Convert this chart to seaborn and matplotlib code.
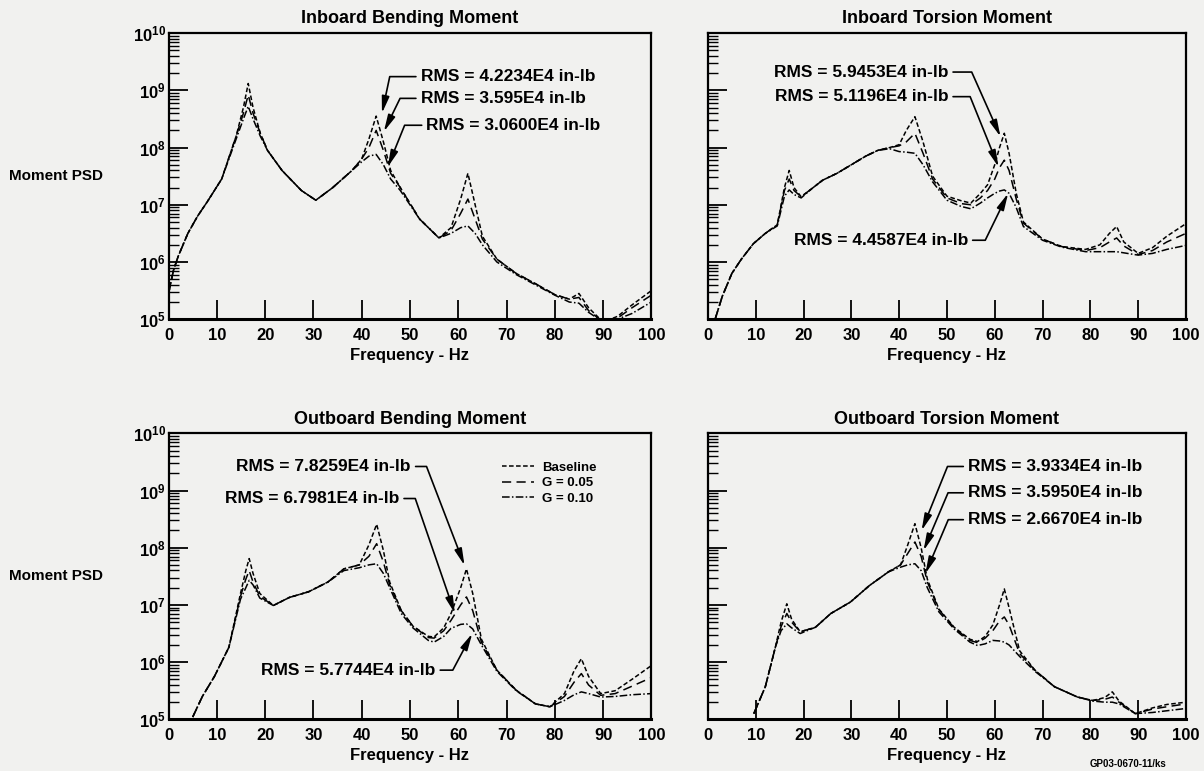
import numpy as np
import pandas as pd
import matplotlib
matplotlib.use("Agg")
import matplotlib.pyplot as plt
from matplotlib.ticker import LogLocator, NullFormatter, FuncFormatter, MultipleLocator
import seaborn as sns

# Data (log10 of moment PSD)
cases = ["Baseline", "G = 0.05", "G = 0.10"]

ib_bend_freq = [0, 1, 2, 4, 6, 8, 11, 14, 15.5, 16.5, 17.5, 19, 20.5, 23.5, 27.5, 30.5, 34, 38, 40, 41.5,
                43, 44.5, 46, 48, 52, 56, 58.5, 60.5, 62, 63.5, 65, 68, 72, 76, 80, 83, 85, 87, 90, 93, 96, 100]
ib_bend_base = [5.45, 5.85, 6.1, 6.5, 6.8, 7.05, 7.45, 8.2, 8.7, 9.12, 8.7, 8.25, 7.95, 7.6, 7.25, 7.08, 7.3, 7.6, 7.8, 8.15,
                8.55, 8.1, 7.6, 7.3, 6.75, 6.42, 6.6, 7.1, 7.55, 7.0, 6.45, 6.05, 5.8, 5.62, 5.43, 5.35, 5.45, 5.2, 4.95, 5.05, 5.25, 5.5]
ib_bend_g05 = [5.45, 5.85, 6.1, 6.5, 6.8, 7.05, 7.45, 8.2, 8.6, 8.92, 8.6, 8.25, 7.95, 7.6, 7.25, 7.08, 7.3, 7.6, 7.8, 8.0,
               8.3, 7.95, 7.55, 7.3, 6.75, 6.42, 6.55, 6.85, 7.1, 6.75, 6.4, 6.05, 5.8, 5.62, 5.43, 5.35, 5.38, 5.15, 4.95, 5.02, 5.2, 5.42]
ib_bend_g10 = [5.45, 5.85, 6.1, 6.5, 6.8, 7.05, 7.45, 8.15, 8.5, 8.72, 8.5, 8.2, 7.95, 7.6, 7.25, 7.08, 7.3, 7.6, 7.75, 7.85,
               7.88, 7.7, 7.45, 7.25, 6.75, 6.42, 6.5, 6.6, 6.63, 6.5, 6.3, 6.0, 5.78, 5.6, 5.42, 5.3, 5.28, 5.12, 4.95, 5.0, 5.1, 5.3]

ib_tors_freq = [1.5, 3, 5, 7, 9.5, 12, 14.5, 16, 17, 18, 19.5, 22, 24, 27, 30, 33, 35.5, 38, 40, 41.5,
                43.3, 45, 47, 50, 53, 55, 57, 58.5, 60, 61, 62, 63, 64.5, 66, 70, 74, 79, 82, 84, 85.5,
                87, 90, 93, 96, 100]
ib_tors_base = [5.0, 5.4, 5.8, 6.05, 6.32, 6.5, 6.65, 7.3, 7.6, 7.3, 7.14, 7.3, 7.43, 7.55, 7.7, 7.85, 7.95, 8.0, 8.05, 8.3,
                8.54, 8.1, 7.5, 7.15, 7.07, 7.03, 7.2, 7.35, 7.7, 8.0, 8.25, 7.9, 7.2, 6.7, 6.4, 6.27, 6.22, 6.3, 6.5, 6.62,
                6.35, 6.15, 6.25, 6.45, 6.67]
ib_tors_g05 = [5.0, 5.4, 5.8, 6.05, 6.32, 6.5, 6.65, 7.25, 7.45, 7.25, 7.14, 7.3, 7.43, 7.55, 7.7, 7.85, 7.95, 8.0, 8.03, 8.1,
               8.25, 7.9, 7.45, 7.12, 7.02, 7.0, 7.12, 7.25, 7.45, 7.65, 7.78, 7.6, 7.1, 6.68, 6.4, 6.27, 6.2, 6.25, 6.35, 6.42,
               6.28, 6.13, 6.2, 6.35, 6.5]
ib_tors_g10 = [5.0, 5.4, 5.8, 6.05, 6.32, 6.5, 6.63, 7.15, 7.26, 7.18, 7.12, 7.3, 7.43, 7.55, 7.7, 7.85, 7.95, 7.98, 7.93, 7.92,
               7.9, 7.7, 7.4, 7.08, 6.97, 6.93, 7.03, 7.12, 7.2, 7.24, 7.26, 7.2, 6.95, 6.62, 6.38, 6.26, 6.18, 6.18, 6.18, 6.18,
               6.16, 6.12, 6.15, 6.22, 6.29]

ob_bend_freq = [5, 7, 9.5, 12.5, 14.9, 16, 16.7, 17.5, 18.9, 21.7, 25, 29, 33, 36.3, 39.5, 41.5, 43.1, 44.5, 45.8, 48.2,
                50.6, 53.8, 55, 57, 58.5, 60.5, 61.7, 63, 64.8, 68, 72, 76, 79, 82, 84, 85.5, 87, 89.5, 92.5, 96, 100]
ob_bend_base = [5.04, 5.4, 5.75, 6.26, 7.2, 7.6, 7.81, 7.55, 7.2, 6.99, 7.13, 7.23, 7.4, 7.63, 7.7, 8.05, 8.41, 7.95, 7.4, 6.9,
                6.63, 6.45, 6.44, 6.6, 6.85, 7.3, 7.63, 7.2, 6.4, 5.86, 5.51, 5.27, 5.22, 5.45, 5.85, 6.06, 5.75, 5.45, 5.5, 5.7, 5.94]
ob_bend_g05 = [5.04, 5.4, 5.75, 6.26, 7.15, 7.45, 7.6, 7.4, 7.15, 6.99, 7.13, 7.23, 7.4, 7.63, 7.7, 7.85, 8.07, 7.75, 7.35, 6.9,
               6.63, 6.43, 6.42, 6.55, 6.73, 7.0, 7.14, 6.9, 6.35, 5.86, 5.51, 5.27, 5.22, 5.4, 5.65, 5.8, 5.6, 5.42, 5.45, 5.58, 5.73]
ob_bend_g10 = [5.04, 5.4, 5.75, 6.26, 7.1, 7.3, 7.43, 7.35, 7.12, 6.99, 7.13, 7.23, 7.4, 7.6, 7.65, 7.7, 7.72, 7.55, 7.3, 6.85,
               6.6, 6.38, 6.35, 6.45, 6.59, 6.66, 6.67, 6.58, 6.3, 5.84, 5.5, 5.27, 5.22, 5.33, 5.43, 5.48, 5.45, 5.39, 5.4, 5.43, 5.45]

ob_tors_freq = [9.6, 12, 14.1, 15.3, 16.5, 17.5, 19.3, 22.5, 25.7, 29.8, 33.8, 37.8, 40.3, 41.8, 43.3, 44.6, 45.9, 48.3, 51.5, 54.8,
                56.4, 58, 59.6, 61, 62, 63, 65.2, 68.4, 72.5, 77.3, 80.5, 83, 84.6, 86, 89.4, 93, 96, 100]
ob_tors_base = [5.1, 5.57, 6.26, 6.7, 7.02, 6.75, 6.53, 6.61, 6.85, 7.05, 7.34, 7.58, 7.7, 8.05, 8.42, 8.0, 7.45, 6.93, 6.61, 6.4,
                6.36, 6.45, 6.65, 7.0, 7.28, 6.95, 6.2, 5.86, 5.57, 5.39, 5.33, 5.38, 5.48, 5.32, 5.1, 5.2, 5.26, 5.3]
ob_tors_g05 = [5.1, 5.57, 6.26, 6.62, 6.85, 6.7, 6.53, 6.61, 6.85, 7.05, 7.34, 7.58, 7.7, 7.9, 8.1, 7.85, 7.4, 6.92, 6.6, 6.38,
               6.34, 6.42, 6.55, 6.72, 6.79, 6.65, 6.15, 5.86, 5.57, 5.39, 5.33, 5.35, 5.39, 5.3, 5.1, 5.18, 5.22, 5.27]
ob_tors_g10 = [5.1, 5.57, 6.26, 6.55, 6.67, 6.6, 6.5, 6.61, 6.85, 7.05, 7.34, 7.58, 7.66, 7.7, 7.72, 7.6, 7.3, 6.88, 6.58, 6.35,
               6.29, 6.32, 6.38, 6.37, 6.35, 6.3, 6.1, 5.84, 5.57, 5.39, 5.32, 5.3, 5.3, 5.27, 5.1, 5.12, 5.15, 5.19]

titles = ["Inboard Bending Moment", "Inboard Torsion Moment",
          "Outboard Bending Moment", "Outboard Torsion Moment"]

# (label text, tip freq, tip log10, text freq, text log10, ha, angleB)
ib_bend_notes = [("RMS = 4.2234E4 in-lb", 44.2, 8.60, 52.2, 9.24, "left", 78),
                 ("RMS = 3.595E4 in-lb", 44.6, 8.28, 52.2, 8.86, "left", 64),
                 ("RMS = 3.0600E4 in-lb", 45.4, 7.66, 53.4, 8.39, "left", 68)]
ib_tors_notes = [("RMS = 5.9453E4 in-lb", 61.2, 8.19, 50.3, 9.32, "right", -66),
                 ("RMS = 5.1196E4 in-lb", 60.8, 7.66, 50.3, 8.89, "right", -68),
                 ("RMS = 4.4587E4 in-lb", 62.8, 7.20, 54.4, 6.38, "right", 64)]
ob_bend_notes = [("RMS = 7.8259E4 in-lb", 61.3, 7.69, 50.2, 9.42, "right", -69),
                 ("RMS = 6.7981E4 in-lb", 59.3, 6.85, 47.8, 8.86, "right", -71),
                 ("RMS = 5.7744E4 in-lb", 62.9, 6.50, 55.3, 5.86, "right", 62)]
ob_tors_notes = [("RMS = 3.9334E4 in-lb", 44.7, 8.30, 54.4, 9.42, "left", 68),
                 ("RMS = 3.5950E4 in-lb", 45.1, 7.95, 54.4, 8.96, "left", 67),
                 ("RMS = 2.6670E4 in-lb", 45.5, 7.55, 54.4, 8.49, "left", 67)]

panels = [
    (ib_bend_freq, ib_bend_base, ib_bend_g05, ib_bend_g10, ib_bend_notes),
    (ib_tors_freq, ib_tors_base, ib_tors_g05, ib_tors_g10, ib_tors_notes),
    (ob_bend_freq, ob_bend_base, ob_bend_g05, ob_bend_g10, ob_bend_notes),
    (ob_tors_freq, ob_tors_base, ob_tors_g05, ob_tors_g10, ob_tors_notes),
]

sns.set_theme(style="ticks")
bg = "#f1f1ef"
plt.rcParams["font.family"] = ["Liberation Sans", "DejaVu Sans"]
plt.rcParams["font.weight"] = "bold"
plt.rcParams["text.color"] = "black"
plt.rcParams["axes.labelcolor"] = "black"
plt.rcParams["xtick.color"] = "black"
plt.rcParams["ytick.color"] = "black"
plt.rcParams["mathtext.fontset"] = "custom"
plt.rcParams["mathtext.rm"] = "Liberation Sans:bold"
plt.rcParams["mathtext.it"] = "Liberation Sans:bold"
plt.rcParams["mathtext.bf"] = "Liberation Sans:bold"
plt.rcParams["mathtext.default"] = "rm"

fig = plt.figure(figsize=(12.04, 7.71), dpi=100, facecolor=bg)

# axes rectangles in figure fractions (left, bottom, width, height)
rects = [(0.140, 0.586, 0.401, 0.371), (0.588, 0.586, 0.397, 0.371),
         (0.140, 0.067, 0.401, 0.371), (0.588, 0.067, 0.397, 0.371)]

dash_map = {"Baseline": (3, 1.6), "G = 0.05": (6, 3.5), "G = 0.10": (5, 1.5, 1, 1.5)}

for i, (freq, base, g05, g10, notes) in enumerate(panels):
    ax = fig.add_axes(rects[i])
    ax.set_facecolor(bg)
    df = pd.DataFrame({
        "freq": list(freq) * 3,
        "psd": [10 ** v for v in list(base) + list(g05) + list(g10)],
        "case": [cases[0]] * len(freq) + [cases[1]] * len(freq) + [cases[2]] * len(freq),
    })
    sns.lineplot(data=df, x="freq", y="psd", style="case", style_order=cases, dashes=dash_map,
                 color="black", linewidth=1.1, ax=ax, legend=(i == 2))
    ax.set_yscale("log")
    ax.set_xlim(0, 100)
    ax.set_ylim(1e5, 1e10)

    ax.xaxis.set_major_locator(MultipleLocator(10))
    ax.yaxis.set_major_locator(LogLocator(base=10, numticks=12))
    ax.yaxis.set_minor_locator(LogLocator(base=10, subs=np.arange(2, 10), numticks=12))
    ax.yaxis.set_minor_formatter(NullFormatter())
    ax.yaxis.set_major_formatter(FuncFormatter(lambda v, p: r"$10^{%d}$" % int(round(np.log10(v)))))
    ax.tick_params(axis="x", which="major", direction="in", length=14, width=1.3, pad=6,
                   labelsize=12, bottom=True, top=False)
    ax.tick_params(axis="y", which="major", direction="in", length=14, width=1.3, pad=2,
                   labelsize=12, left=True, right=False, labelleft=(i % 2 == 0))
    ax.tick_params(axis="y", which="minor", direction="in", length=7, width=1.0, left=True, right=False)
    for s in ax.spines.values():
        s.set_linewidth(1.6)
        s.set_color("black")
    ax.spines["bottom"].set_linewidth(2.2)

    ax.set_title(titles[i], fontsize=13, fontweight="bold", pad=7)
    ax.set_xlabel("Frequency - Hz", fontsize=12, fontweight="bold", labelpad=4)
    if i % 2 == 0:
        ax.set_ylabel("Moment PSD", fontsize=11, fontweight="bold", rotation=0, ha="left", va="center")
        ax.yaxis.set_label_coords(-0.33, 0.5)
    else:
        ax.set_ylabel("")

    for txt, tf, tl, xf, xl, ha, ang in notes:
        ax.annotate(txt, xy=(tf, 10 ** tl), xytext=(xf, 10 ** xl), ha=ha, va="center",
                    fontsize=12.5, fontweight="bold",
                    arrowprops=dict(arrowstyle="-|>,head_length=0.8,head_width=0.18", color="black",
                                    lw=1.2, shrinkA=1, shrinkB=0,
                                    connectionstyle="angle,angleA=0,angleB=%d,rad=0" % ang))

    if i == 2:
        handles, labels = ax.get_legend_handles_labels()
        ax.legend(handles, labels, loc="upper left", bbox_to_anchor=(0.68, 0.92), frameon=False,
                  handlelength=2.4, labelspacing=0.25, handletextpad=0.6,
                  borderaxespad=0, prop={"weight": "bold", "size": 9.5})

fig.text(0.905, 0.003, "GP03-0670-11/ks", fontsize=7, fontweight="bold", ha="left", va="bottom")

fig.savefig("out.png", dpi=100, facecolor=bg)
